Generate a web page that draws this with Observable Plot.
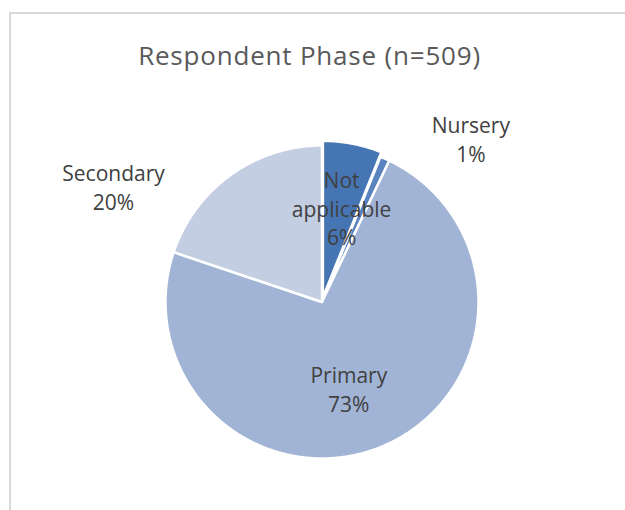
<!DOCTYPE html>
<html><head><meta charset="utf-8">
<script src="https://cdn.jsdelivr.net/npm/d3@7"></script>
<script src="https://cdn.jsdelivr.net/npm/@observablehq/plot@0.6"></script>
<style>
html,body{margin:0;padding:0;background:#fff;overflow:hidden;}
#wrap{position:relative;width:625px;height:510px;font-family:"Open Sans",sans-serif;}
#frame{position:absolute;left:9px;top:12px;width:700px;height:600px;border-left:2px solid #d9d9d9;border-top:2px solid #d9d9d9;}
#title{position:relative;height:40px;padding-top:40px;text-align:center;font-size:26px;letter-spacing:0.8px;line-height:30px;color:#595959;padding-right:6px;white-space:nowrap;}
#chart svg{display:block;}
</style></head><body>
<div id="wrap"><div id="frame"></div><div id="title"></div><div id="chart"></div></div>
<script>
const title = "Respondent Phase (n=509)";
const categories = ["Not applicable", "Nursery", "Primary", "Secondary"];
const counts = [31, 5, 372, 101];
const percentLabels = ["6%", "1%", "73%", "20%"];
const sliceColors = ["#4675b3", "#5a84c0", "#a2b4d6", "#c4cee3"];

document.getElementById("title").textContent = title;

// label placement: polar (degrees clockwise from 12 o'clock, fraction of radius)
const labelPlacement = {
  "Not applicable": [11.7, 0.617],
  "Nursery": [42.3, 1.413],
  "Primary": [162.8, 0.579],
  "Secondary": [299.0, 1.523]
};
const explode = {"Not applicable": 0.03};

const arcs = d3.pie().sort(null).value(d => d)(counts);
const slicePts = [];
arcs.forEach((a, i) => {
  const cat = categories[i];
  const mid = (a.startAngle + a.endAngle) / 2;
  const e = explode[cat] || 0;
  const ox = e * Math.sin(mid), oy = e * Math.cos(mid);
  slicePts.push({cat, x: ox, y: oy});
  const n = Math.max(2, Math.ceil((a.endAngle - a.startAngle) / (Math.PI / 360)));
  for (let k = 0; k <= n; k++) {
    const t = a.startAngle + (a.endAngle - a.startAngle) * k / n;
    slicePts.push({cat, x: ox + Math.sin(t), y: oy + Math.cos(t)});
  }
});

const labels = categories.map((c, i) => {
  const [deg, rf] = labelPlacement[c];
  const t = deg * Math.PI / 180;
  return {cat: c, x: rf * Math.sin(t), y: rf * Math.cos(t), text: c.replace(" ", "\n") + "\n" + percentLabels[i]};
});

const chart = Plot.plot({
  width: 625,
  height: 430,
  margin: 0,
  style: {fontFamily: "'Open Sans', sans-serif", background: "transparent"},
  x: {domain: [-1, 1], range: [165, 478], axis: null},
  y: {domain: [-1, 1], range: [378, 65], axis: null},
  color: {domain: categories, range: sliceColors},
  marks: [
    Plot.line(slicePts, {x: "x", y: "y", z: "cat", fill: "cat", stroke: "white", strokeWidth: 2.5, strokeLinejoin: "round", curve: "linear-closed"}),
    Plot.text(labels, {x: "x", y: "y", text: "text", fill: "#404040", fontSize: 21, lineHeight: 1.35, textAnchor: "middle", lineAnchor: "middle"})
  ]
});
document.getElementById("chart").appendChild(chart);
</script>
</body></html>
